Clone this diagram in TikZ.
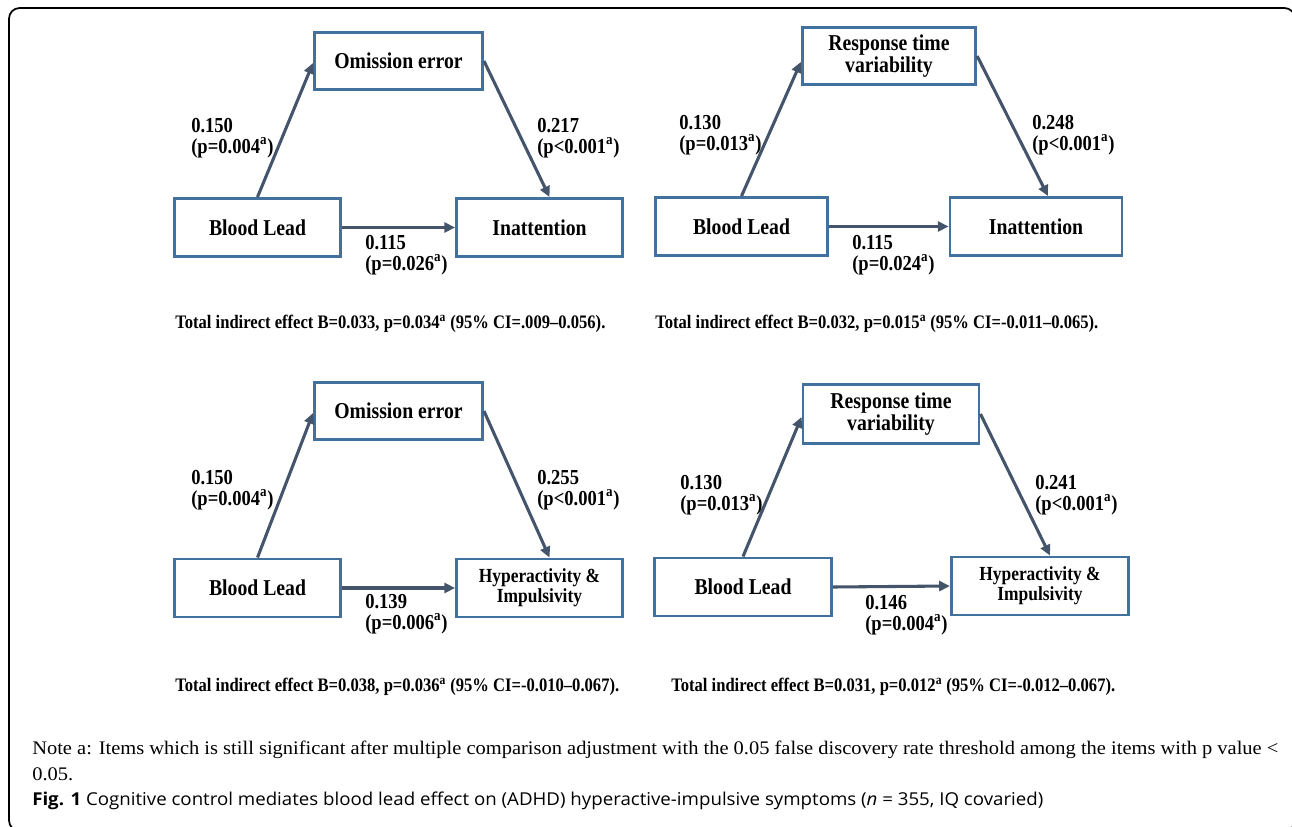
\documentclass[tikz,border=0pt]{standalone}
\usepackage{fontspec}
\usepackage{graphicx}
\setmainfont{Liberation Serif}
\newfontfamily\sqfont[FakeStretch=0.87]{Liberation Serif}
\newfontfamily\capfont{Open Sans}
\usetikzlibrary{arrows.meta,calc}
\definecolor{boxblue}{HTML}{41719C}
\definecolor{arrowcol}{HTML}{44546A}
\newsavebox\notebox
\tikzset{
  boxnode/.style={draw=boxblue, line width=2.2pt, fill=white, inner sep=0pt, align=center,
    font=\sqfont\bfseries\fontsize{17}{16.5}\selectfont},
  hyperbox/.style={boxnode, font=\sqfont\bfseries\fontsize{15}{15}\selectfont},
  lbl/.style={anchor=north west, inner sep=0pt, align=left, font=\sqfont\bfseries\fontsize{16}{15.5}\selectfont},
  tot/.style={anchor=base west, inner sep=0pt, font=\sqfont\bfseries\fontsize{14.3}{15}\selectfont},
  plain/.style={anchor=base west, inner sep=0pt},
  arr/.style={draw=arrowcol, line width=2.3pt, -{Triangle[length=8pt,width=7.5pt]}},
}
\begin{document}
\sbox\notebox{\fontsize{14.4}{17}\selectfont Note a: Items which is still significant after multiple comparison adjustment with the 0.05 false discovery rate threshold among the items with p value <}%
\begin{tikzpicture}[x=0.75pt,y=-0.75pt]
\useasboundingbox (0,0) rectangle (1292,827);
\clip (0,0) rectangle (1292,827);
\fill[white] (0,0) rectangle (1292,827);
\draw[line width=1.3pt, rounded corners=8pt] (9,8) rectangle (1295,831);

% ---------- Panel 1 ----------
\node[boxnode, minimum width=126pt, minimum height=43pt] (om1) at (398.5,61) {Omission error};
\node[boxnode, minimum width=124.5pt, minimum height=43.5pt] (bl1) at (257.5,227.5) {Blood Lead};
\node[boxnode, minimum width=124.5pt, minimum height=43.5pt] (in1) at (539.5,227.5) {Inattention};
\draw[arr] (bl1.north) -- ([yshift=-1.5pt]om1.west);
\draw[arr] (om1.east) -- ([xshift=7.5pt]in1.north);
\draw[arr] (bl1.east) -- (in1.west);
\node[lbl] (l1a) at (191,118) {0.150\\(p=0.004\textsuperscript{a})};
\node[lbl] (l1b) at (537,118) {0.217\\(p<0.001\textsuperscript{a})};
\node[lbl] (l1c) at (365,235) {0.115\\(p=0.026\textsuperscript{a})};
\node[tot] (t1) at (175,328) {Total indirect effect B=0.033, p=0.034\textsuperscript{a} (95\% CI=.009–0.056).};

% ---------- Panel 2 ----------
\node[boxnode, minimum width=130pt, minimum height=43pt] (rt2) at (889,56) {Response time\\variability};
\node[boxnode, minimum width=129pt, minimum height=43.5pt] (bl2) at (741.5,226.5) {Blood Lead};
\node[boxnode, minimum width=129pt, minimum height=43.5pt] (in2) at (1036,226.5) {Inattention};
\draw[arr] (bl2.north) -- ([yshift=-4.5pt]rt2.west);
\draw[arr] (rt2.east) -- ([xshift=9pt]in2.north);
\draw[arr] (bl2.east) -- (in2.west);
\node[lbl] (l2a) at (679,115) {0.130\\(p=0.013\textsuperscript{a})};
\node[lbl] (l2b) at (1032,115) {0.248\\(p<0.001\textsuperscript{a})};
\node[lbl] (l2c) at (852,235) {0.115\\(p=0.024\textsuperscript{a})};
\node[tot] (t2) at (655,328) {Total indirect effect B=0.032, p=0.015\textsuperscript{a} (95\% CI=-0.011–0.065).};

% ---------- Panel 3 ----------
\node[boxnode, minimum width=126pt, minimum height=43pt] (om3) at (398.5,411) {Omission error};
\node[boxnode, minimum width=124.5pt, minimum height=43.5pt] (bl3) at (257.5,588) {Blood Lead};
\node[hyperbox, minimum width=124.5pt, minimum height=43.5pt] (hy3) at (539.5,588) {Hyperactivity \&\\Impulsivity};
\draw[arr] (bl3.north) -- ([yshift=-1.5pt]om3.west);
\draw[arr] (om3.east) -- ([xshift=7.5pt]hy3.north);
\draw[arr] (bl3.east) -- (hy3.west);
\node[lbl] (l3a) at (191,470) {0.150\\(p=0.004\textsuperscript{a})};
\node[lbl] (l3b) at (537,470) {0.255\\(p<0.001\textsuperscript{a})};
\node[lbl] (l3c) at (365,594) {0.139\\(p=0.006\textsuperscript{a})};
\node[tot] (t3) at (175,691) {Total indirect effect B=0.038, p=0.036\textsuperscript{a} (95\% CI=-0.010–0.067).};

% ---------- Panel 4 ----------
\node[boxnode, minimum width=132pt, minimum height=44pt] (rt4) at (891,414) {Response time\\variability};
\node[boxnode, minimum width=133pt, minimum height=43.5pt] (bl4) at (743,587) {Blood Lead};
\node[hyperbox, minimum width=133pt, minimum height=43.5pt] (hy4) at (1040,586) {Hyperactivity \&\\Impulsivity};
\draw[arr] (bl4.north) -- ([yshift=-2.25pt]rt4.west);
\draw[arr] (rt4.east) -- ([xshift=7.5pt]hy4.north);
\draw[arr] (bl4.east) -- (hy4.west);
\node[lbl] (l4a) at (680,475) {0.130\\(p=0.013\textsuperscript{a})};
\node[lbl] (l4b) at (1035,475) {0.241\\(p<0.001\textsuperscript{a})};
\node[lbl] (l4c) at (865,595) {0.146\\(p=0.004\textsuperscript{a})};
\node[tot] (t4) at (671,691) {Total indirect effect B=0.031, p=0.012\textsuperscript{a} (95\% CI=-0.012–0.067).};

% ---------- Note and caption ----------
\pgfmathsetmacro\nsc{934.5/\wd\notebox}
\node[plain] (note1) at (32,754) {\scalebox{\nsc}[1]{\usebox\notebox}};
\node[plain] (note2) at (32,780) {\scalebox{\nsc}[1]{\fontsize{14.4}{17}\selectfont 0.05.}};
\node[plain] (cap) at (32,805) {\resizebox{758.25pt}{\height}{\capfont\fontsize{13.3}{16}\selectfont\textbf{Fig. 1} Cognitive control mediates blood lead effect on (ADHD) hyperactive-impulsive symptoms (\textit{n} = 355, IQ covaried)}};
\end{tikzpicture}
\end{document}
